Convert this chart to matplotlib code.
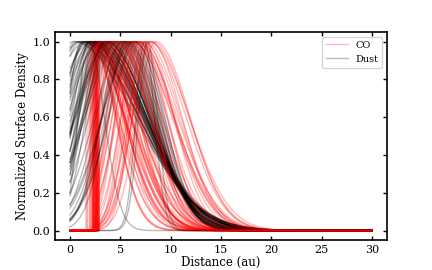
import numpy as np
import matplotlib
matplotlib.use("Agg")
import matplotlib.pyplot as plt

plt.rcParams['font.family'] = ['DejaVu Serif']

# ---- CO profiles: inner edge, peak radius, inner width, outer width (au)
co_rin = [2.3, 2.5, 2.7, 2.8, 2.4, 2.6, 2.9, 2.2, 2.0, 1.8, 2.6, 2.7, 2.5, 2.4, 2.8,
          2.3, 2.9, 2.6, 1.6, 2.1, 2.7, 2.5,
          2.4, 2.6, 2.8, 2.3, 2.7, 2.5, 2.9, 2.2, 2.6, 2.8, 2.4, 2.7, 2.5, 2.9, 2.3,
          2.6, 2.8, 2.1, 2.5, 2.7, 2.4, 2.6, 2.8, 2.2, 2.9, 2.5, 2.7, 2.3, 2.6, 2.4,
          2.8, 2.0, 2.6, 2.7, 2.5, 2.9, 2.3, 1.7, 2.4, 2.8, 2.6, 2.2]
co_r0 = [2.0, 2.5, 2.0, 2.6, 1.5, 2.6, 2.5, 2.2, 2.0, 1.8, 2.3, 2.7, 1.0, 2.4, 2.8,
         2.3, 2.9, 2.0, 1.6, 2.1, 2.5, 2.5,
         3.5, 4.0, 4.5, 5.0, 5.5, 6.0, 6.5, 7.0, 7.5, 8.0, 8.5, 4.2, 3.8, 5.2, 5.8,
         6.2, 6.8, 7.2, 7.8, 3.2, 4.8, 5.4, 6.3, 6.6, 7.0, 4.4, 5.6, 3.0, 6.9, 5.9,
         4.6, 3.3, 8.2, 7.4, 6.4, 5.0, 4.1, 3.6, 7.9, 6.1, 2.4, 2.2]
co_sin = [1.0] * 22 + [
         2.0, 2.5, 1.8, 2.2, 1.6, 1.5, 1.4, 1.5, 1.6, 1.8, 1.8, 2.8, 2.2, 2.0, 1.9,
         1.7, 1.5, 1.3, 2.0, 2.0, 1.9, 2.4, 2.1, 1.6, 1.9, 1.7, 1.8, 1.5, 2.2, 2.6,
         2.3, 2.4, 2.0, 1.7, 1.9, 1.4, 1.6, 1.2, 1.7, 1.9, 1.0, 1.0]
co_sout = [2.8, 3.0, 3.2, 2.6, 3.0, 3.4, 2.9, 3.1, 3.3, 3.6, 3.7, 2.7, 3.5, 2.2, 3.3,
           3.9, 3.0, 4.0, 3.8, 2.4, 3.5, 3.2,
           3.0, 2.8, 3.4, 3.3, 3.6, 3.1, 3.8, 3.3, 3.5, 3.1, 3.4, 3.0, 3.4, 2.7, 2.9,
           3.9, 2.8, 3.6, 3.7, 3.6, 3.1, 2.9, 3.3, 4.0, 2.7, 2.6, 2.8, 3.0, 3.5, 2.5,
           3.4, 3.1, 3.6, 2.9, 2.6, 3.0, 2.7, 3.3, 3.9, 4.1, 4.2, 2.3]

# ---- Dust profiles: peak radius, inner width, outer width (au)
dust_r0 = [1.0, 1.5, 2.0, 2.5, 3.0, 3.5, 4.0, 1.2, 2.2, 2.8, 3.2, 3.8, 4.4, 0.8, 1.8,
           2.6, 3.4, 4.2, 1.4, 2.4, 3.0, 3.6, 4.6, 0.5, 2.0, 5.0, 5.4, 4.8, 3.3, 2.7,
           1.6, 2.3, 2.9, 3.7, 4.3, 1.1, 2.1, 3.1, 3.9, 4.7, 0.3, 2.5, 5.2, 3.5, 1.7,
           6.0, 6.5, 5.5, 6.2, 5.8, 6.8, 5.2, 6.4, 5.6,
           1.8, 7.4, 7.7]
dust_sin = [3.5, 2.0, 2.5, 3.0, 2.1, 3.0, 3.5, 1.5, 4.0, 2.4, 2.8, 3.2, 3.8, 2.5, 3.0,
            3.6, 2.6, 4.0, 2.2, 2.0, 3.2, 2.4, 3.3, 2.0, 1.8, 3.5, 3.0, 2.9, 2.0, 2.7,
            2.6, 3.4, 2.2, 2.8, 3.0, 2.8, 2.2, 3.6, 2.5, 3.2, 3.0, 1.6, 2.6, 1.9, 4.2,
            2.5, 2.7, 2.3, 3.0, 2.6, 2.9, 2.1, 3.2, 2.0,
            1.0, 0.85, 0.9]
dust_sout = [5.8, 5.5, 5.2, 4.9, 4.6, 4.3, 4.0, 5.6, 5.0, 4.8, 4.4, 4.2, 3.8, 5.9, 5.3,
             4.9, 4.5, 3.9, 5.4, 5.0, 4.5, 4.2, 3.6, 6.0, 5.4, 3.4, 3.2, 3.5, 4.6, 4.6,
             5.6, 5.1, 4.7, 4.1, 3.8, 5.7, 5.2, 4.5, 4.0, 3.6, 6.1, 5.0, 3.3, 4.3, 5.4,
             2.9, 2.7, 3.1, 2.8, 3.0, 2.6, 3.3, 2.9, 3.2,
             1.6, 1.0, 1.0]

r = np.linspace(0, 30, 1501)


def ring(r0, sin, sout):
    s = np.where(r < r0, sin, sout)
    return np.exp(-0.5 * ((r - r0) / s) ** 2)


fig = plt.figure(figsize=(4.32, 2.70), dpi=100)
ax = fig.add_axes([0.127, 0.111, 0.769, 0.77])

n = max(len(co_r0), len(dust_r0))
for i in range(n):
    if i < len(dust_r0):
        d = ring(dust_r0[i], dust_sin[i], dust_sout[i])
        d = d / d.max()
        ax.plot(r, d, color='black', alpha=0.27, lw=1.0,
                label='Dust' if i == 0 else None)
    if i < len(co_r0):
        c = ring(co_r0[i], co_sin[i], co_sout[i])
        c = np.where(r < co_rin[i], 0.0, c)
        c = c / c.max()
        ax.plot(r, c, color='red', alpha=0.27, lw=1.0,
                label='CO' if i == 0 else None)

ax.set_xlim(-1.5, 31.5)
ax.set_ylim(-0.05, 1.05)
ax.set_xticks([0, 5, 10, 15, 20, 25, 30])
ax.set_yticks([0.0, 0.2, 0.4, 0.6, 0.8, 1.0])
ax.tick_params(direction='in', top=True, right=True, labelsize=8, length=3,
               width=1.0)
for sp in ax.spines.values():
    sp.set_linewidth(1.2)
ax.set_xlabel('Distance (au)', fontsize=8.5, labelpad=1)
ax.set_ylabel('Normalized Surface Density', fontsize=8.5, labelpad=2)

h, l = ax.get_legend_handles_labels()
order = [l.index('CO'), l.index('Dust')]
ax.legend([h[k] for k in order], [l[k] for k in order], loc='upper right',
          fontsize=7, handlelength=2.2)

fig.savefig('out.png', dpi=100)
